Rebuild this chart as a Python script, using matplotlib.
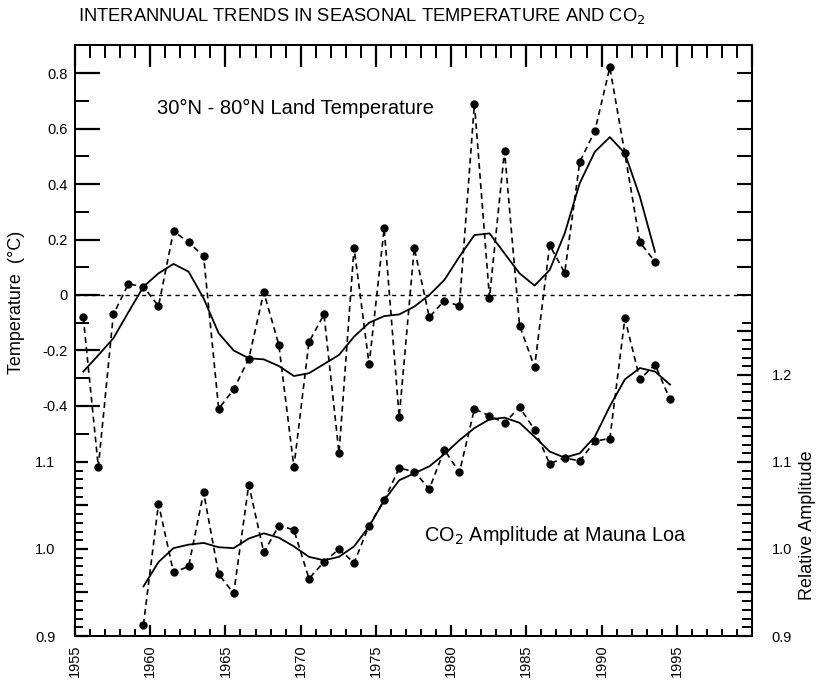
import numpy as np
import matplotlib
matplotlib.use('Agg')
import matplotlib.pyplot as plt
from matplotlib.ticker import FixedLocator, NullFormatter

plt.rcParams['font.family'] = ['Liberation Sans', 'DejaVu Sans']

# ---------- data ----------
# annual values, plotted at mid-year
temp_years = list(range(1955, 1994))
temp_vals = [-0.08, -0.62, -0.07, 0.04, 0.03, -0.04, 0.23, 0.19, 0.14, -0.41,
             -0.34, -0.23, 0.01, -0.18, -0.62, -0.17, -0.07, -0.57, 0.17, -0.25,
             0.24, -0.44, 0.17, -0.08, -0.02, -0.04, 0.69, -0.01, 0.52, -0.11,
             -0.26, 0.18, 0.08, 0.48, 0.59, 0.82, 0.51, 0.19, 0.12]
temp_smooth = [-0.276, -0.217, -0.156, -0.062, 0.030, 0.078, 0.112, 0.084, -0.012, -0.138,
               -0.200, -0.228, -0.232, -0.256, -0.292, -0.282, -0.249, -0.216, -0.150, -0.100,
               -0.076, -0.070, -0.042, 0.000, 0.054, 0.138, 0.216, 0.222, 0.150, 0.078,
               0.034, 0.090, 0.222, 0.403, 0.516, 0.569, 0.511, 0.354, 0.156]

co2_years = list(range(1959, 1995))
co2_vals = [0.913, 1.052, 0.973, 0.980, 1.065, 0.971, 0.949, 1.074, 0.996, 1.027,
            1.022, 0.966, 0.985, 1.000, 0.984, 1.027, 1.056, 1.093, 1.089, 1.069,
            1.114, 1.088, 1.161, 1.153, 1.145, 1.163, 1.137, 1.098, 1.105, 1.101,
            1.124, 1.127, 1.265, 1.195, 1.212, 1.172]
co2_smooth = [0.957, 0.985, 1.001, 1.005, 1.007, 1.002, 1.001, 1.012, 1.018, 1.013,
              1.003, 0.991, 0.987, 0.991, 1.003, 1.026, 1.056, 1.079, 1.087, 1.095,
              1.109, 1.125, 1.139, 1.149, 1.151, 1.145, 1.129, 1.112, 1.105, 1.110,
              1.129, 1.164, 1.195, 1.208, 1.204, 1.189]

year_ticks = [1955, 1960, 1965, 1970, 1975, 1980, 1985, 1990, 1995]
temp_ticks = [-0.4, -0.2, 0, 0.2, 0.4, 0.6, 0.8]
temp_labels = ['-0.4', '-0.2', '0', '0.2', '0.4', '0.6', '0.8']
co2_left_ticks = [0.9, 0.95, 1.0, 1.05, 1.1]
co2_left_labels = ['0.9', '', '1.0', '', '1.1']
co2_right_ticks = [0.9, 0.95, 1.0, 1.05, 1.1, 1.15, 1.2, 1.25]
co2_right_labels = ['0.9', '', '1.0', '', '1.1', '', '1.2', '']

mid = 0.55
tx = np.array(temp_years) + mid
cx = np.array(co2_years) + mid

# ---------- figure ----------
fig = plt.figure(figsize=(8.19, 6.87), dpi=100)
L, R, T, B = 75/819., 752/819., 45/687., 636/687.
ax_t = fig.add_axes([L, 1-B, R-L, B-T])
ax_t.set_xlim(1955, 2000)
ax_t.set_ylim(-1.229, 0.901)

ax_c = ax_t.twinx()      # CO2 scale, right labels
ax_c.set_ylim(0.9, 1.5793)
ax_cl = ax_t.twinx()     # CO2 scale, left ticks
ax_cl.set_ylim(0.9, 1.5793)
ax_cl.yaxis.tick_left()
ax_tr = ax_t.twinx()     # temperature scale, right ticks
ax_tr.set_ylim(-1.229, 0.901)

ax_t.axhline(0, color='k', lw=1.0, ls=(0, (3, 3)))
ax_t.plot(tx, temp_vals, 'k', ls=(0, (3.5, 2.5)), lw=1.2, marker='o', ms=5)
ax_t.plot(tx, temp_smooth, 'k-', lw=1.3)
ax_c.plot(cx, co2_vals, 'k', ls=(0, (3.5, 2.5)), lw=1.2, marker='o', ms=5)
ax_c.plot(cx, co2_smooth, 'k-', lw=1.3)

for a in (ax_t, ax_c, ax_cl, ax_tr):
    for sp in a.spines.values():
        sp.set_linewidth(1.4)

# x ticks (bottom)
ax_t.set_xticks(year_ticks)
ax_t.set_xticklabels([str(y) for y in year_ticks], rotation=90, fontsize=10.5)
ax_t.xaxis.set_minor_locator(FixedLocator(range(1955, 2001)))
ax_t.tick_params(axis='x', which='major', direction='in', length=8, width=1.6, pad=6)
ax_t.tick_params(axis='x', which='minor', direction='in', length=5, width=1.4)

# x ticks (top)
top = ax_t.secondary_xaxis('top')
top.set_xticks(list(range(1955, 2001, 5)))
top.xaxis.set_minor_locator(FixedLocator(range(1955, 2001)))
top.set_xticklabels([])
top.tick_params(axis='x', which='major', direction='in', length=16, width=1.6)
top.tick_params(axis='x', which='minor', direction='in', length=9, width=1.4)
top.spines['top'].set_linewidth(1.4)

# left: temperature
ax_t.set_yticks(temp_ticks)
ax_t.set_yticklabels(temp_labels, fontsize=10.5)
ax_t.yaxis.set_minor_locator(FixedLocator(np.arange(-0.5, 0.91, 0.1)))
ax_t.tick_params(axis='y', which='major', direction='in', length=18, width=1.6, pad=5)
ax_t.tick_params(axis='y', which='minor', direction='in', length=10, width=1.4)

# left: CO2
ax_cl.yaxis.set_major_locator(FixedLocator(co2_left_ticks))
ax_cl.set_yticklabels(co2_left_labels, fontsize=10.5)
ax_cl.yaxis.set_minor_locator(FixedLocator(np.arange(0.9, 1.101, 0.01)))
ax_cl.tick_params(axis='y', which='major', direction='in', length=9, width=1.6, pad=14)
ax_cl.tick_params(axis='y', which='minor', direction='in', length=6, width=1.4)

# right: CO2
ax_c.yaxis.set_major_locator(FixedLocator(co2_right_ticks))
ax_c.set_yticklabels(co2_right_labels, fontsize=10.5)
ax_c.yaxis.set_minor_locator(FixedLocator(np.arange(0.9, 1.265, 0.01)))
ax_c.tick_params(axis='y', which='major', direction='in', length=11, width=1.6, pad=14)
ax_c.tick_params(axis='y', which='minor', direction='in', length=7, width=1.4)

# right: temperature
ax_tr.yaxis.set_major_locator(FixedLocator(np.arange(0, 0.81, 0.1)))
ax_tr.yaxis.set_major_formatter(NullFormatter())
ax_tr.tick_params(axis='y', which='major', direction='in', length=11, width=1.5)

for a in (ax_c, ax_cl, ax_tr):
    a.xaxis.set_visible(False)

# ---------- texts ----------
fig.text(78/819., 1-21/687., 'INTERANNUAL TRENDS IN SEASONAL TEMPERATURE AND CO$_2$',
         fontsize=13.2, va='baseline', ha='left')
fig.text(157/819., 1-114/687., '30\u00b0N - 80\u00b0N Land Temperature', fontsize=14.5,
         va='baseline', ha='left')
fig.text(424/819., 1-541/687., 'CO$_2$ Amplitude at Mauna Loa', fontsize=14.3,
         va='baseline', ha='left')
fig.text(17/819., 1-302/687., 'Temperature  (\u00b0C)', rotation=90, fontsize=13,
         va='center', ha='center')
fig.text(807/819., 1-525/687., 'Relative Amplitude', rotation=90, fontsize=13,
         va='center', ha='center')

plt.savefig('out.png', dpi=100, facecolor='w')
